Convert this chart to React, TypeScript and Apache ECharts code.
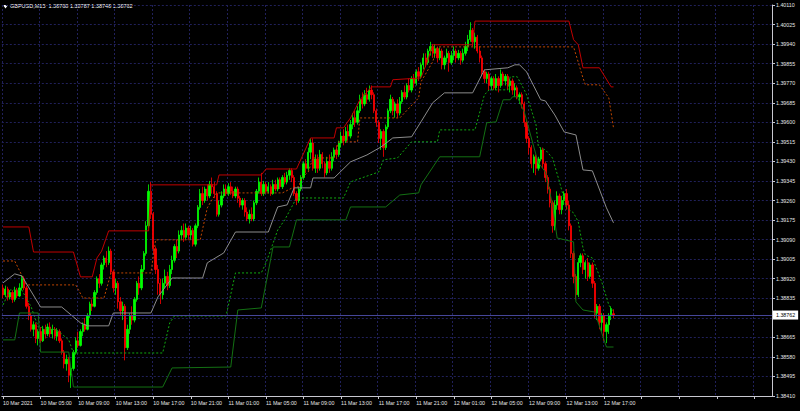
import React, { useEffect, useRef } from 'react';
import * as echarts from 'echarts';

// ---- data ----
const symbolTitle = 'GBPUSD,M15  1.38768 1.38787 1.38748 1.38762';
const currentPrice = 1.38762;
const priceBase = 1.3841;
const priceStep = 0.00085;
const tickLabels = [
  '10 Mar 2021', '10 Mar 05:00', '10 Mar 09:00', '10 Mar 13:00', '10 Mar 17:00', '10 Mar 21:00',
  '11 Mar 01:00', '11 Mar 05:00', '11 Mar 09:00', '11 Mar 13:00', '11 Mar 17:00', '11 Mar 21:00',
  '12 Mar 01:00', '12 Mar 05:00', '12 Mar 09:00', '12 Mar 13:00', '12 Mar 17:00',
];
const slotCount = 328; // bar slots on the axis (bars + empty right margin)

// candles: [open, close, low, high]
const candles: number[][] = [
  [1.38880, 1.38850, 1.38835, 1.38895], [1.38850, 1.38875, 1.38840, 1.38890], [1.38875, 1.38840, 1.38825, 1.38885],
  [1.38840, 1.38860, 1.38830, 1.38870], [1.38860, 1.38830, 1.38815, 1.38870], [1.38830, 1.38870, 1.38820, 1.38885],
  [1.38870, 1.38845, 1.38835, 1.38880], [1.38845, 1.38880, 1.38840, 1.38900], [1.38880, 1.38920, 1.38870, 1.38935],
  [1.38920, 1.38880, 1.38870, 1.38930], [1.38880, 1.38800, 1.38790, 1.38890], [1.38800, 1.38760, 1.38740, 1.38815],
  [1.38760, 1.38700, 1.38690, 1.38770], [1.38700, 1.38720, 1.38670, 1.38735], [1.38720, 1.38660, 1.38640, 1.38730],
  [1.38660, 1.38690, 1.38630, 1.38700], [1.38690, 1.38650, 1.38640, 1.38710], [1.38650, 1.38700, 1.38645, 1.38715],
  [1.38700, 1.38680, 1.38660, 1.38720], [1.38680, 1.38710, 1.38670, 1.38725], [1.38710, 1.38680, 1.38665, 1.38730],
  [1.38680, 1.38700, 1.38660, 1.38720], [1.38700, 1.38670, 1.38655, 1.38710], [1.38670, 1.38690, 1.38650, 1.38705],
  [1.38690, 1.38650, 1.38640, 1.38700], [1.38650, 1.38600, 1.38590, 1.38660], [1.38600, 1.38550, 1.38530, 1.38610],
  [1.38550, 1.38570, 1.38520, 1.38590], [1.38570, 1.38500, 1.38470, 1.38580], [1.38500, 1.38530, 1.38445, 1.38545],
  [1.38530, 1.38600, 1.38520, 1.38610], [1.38600, 1.38650, 1.38590, 1.38665], [1.38650, 1.38630, 1.38620, 1.38690],
  [1.38630, 1.38690, 1.38625, 1.38700], [1.38690, 1.38720, 1.38670, 1.38730], [1.38720, 1.38700, 1.38690, 1.38750],
  [1.38700, 1.38760, 1.38695, 1.38770], [1.38760, 1.38810, 1.38750, 1.38820], [1.38810, 1.38800, 1.38780, 1.38830],
  [1.38800, 1.38860, 1.38795, 1.38870], [1.38860, 1.38920, 1.38850, 1.38930], [1.38920, 1.38900, 1.38880, 1.38940],
  [1.38900, 1.38980, 1.38890, 1.38990], [1.38980, 1.39010, 1.38960, 1.39020], [1.39010, 1.38990, 1.38970, 1.39040],
  [1.38990, 1.39040, 1.38980, 1.39060], [1.39040, 1.38950, 1.38940, 1.39050], [1.38950, 1.38880, 1.38860, 1.38960],
  [1.38880, 1.38900, 1.38850, 1.38920], [1.38900, 1.38820, 1.38790, 1.38910], [1.38820, 1.38780, 1.38760, 1.38840],
  [1.38780, 1.38800, 1.38740, 1.38820], [1.38800, 1.38620, 1.38565, 1.38810], [1.38620, 1.38700, 1.38610, 1.38720],
  [1.38700, 1.38760, 1.38680, 1.38770], [1.38760, 1.38740, 1.38720, 1.38800], [1.38740, 1.38830, 1.38730, 1.38840],
  [1.38830, 1.38900, 1.38820, 1.38910], [1.38900, 1.38880, 1.38850, 1.38930], [1.38880, 1.38960, 1.38870, 1.38980],
  [1.38960, 1.39030, 1.38950, 1.39040], [1.39030, 1.39150, 1.39020, 1.39170], [1.39150, 1.39300, 1.39140, 1.39330],
  [1.39300, 1.39200, 1.39180, 1.39340], [1.39200, 1.39050, 1.39030, 1.39210], [1.39050, 1.38960, 1.38940, 1.39060],
  [1.38960, 1.38900, 1.38850, 1.38980], [1.38900, 1.38850, 1.38810, 1.38920], [1.38850, 1.38900, 1.38830, 1.38920],
  [1.38900, 1.38930, 1.38880, 1.38960], [1.38930, 1.38890, 1.38870, 1.38950], [1.38890, 1.38960, 1.38880, 1.38980],
  [1.38960, 1.39000, 1.38940, 1.39020], [1.39000, 1.39060, 1.38990, 1.39070], [1.39060, 1.39040, 1.39010, 1.39090],
  [1.39040, 1.39110, 1.39030, 1.39130], [1.39110, 1.39130, 1.39090, 1.39150], [1.39130, 1.39100, 1.39080, 1.39160],
  [1.39100, 1.39140, 1.39090, 1.39160], [1.39140, 1.39110, 1.39090, 1.39150], [1.39110, 1.39130, 1.39090, 1.39150],
  [1.39130, 1.39070, 1.39060, 1.39140], [1.39070, 1.39150, 1.39060, 1.39160], [1.39150, 1.39230, 1.39140, 1.39240],
  [1.39230, 1.39290, 1.39220, 1.39310], [1.39290, 1.39260, 1.39240, 1.39320], [1.39260, 1.39310, 1.39250, 1.39320],
  [1.39310, 1.39280, 1.39260, 1.39330], [1.39280, 1.39330, 1.39270, 1.39345], [1.39330, 1.39320, 1.39290, 1.39360],
  [1.39320, 1.39290, 1.39270, 1.39340], [1.39290, 1.39200, 1.39190, 1.39300], [1.39200, 1.39240, 1.39190, 1.39260],
  [1.39240, 1.39280, 1.39230, 1.39300], [1.39280, 1.39310, 1.39270, 1.39330], [1.39310, 1.39290, 1.39280, 1.39330],
  [1.39290, 1.39320, 1.39280, 1.39335], [1.39320, 1.39300, 1.39285, 1.39340], [1.39300, 1.39280, 1.39270, 1.39320],
  [1.39280, 1.39310, 1.39270, 1.39320], [1.39310, 1.39270, 1.39250, 1.39320], [1.39270, 1.39240, 1.39230, 1.39280],
  [1.39240, 1.39260, 1.39220, 1.39270], [1.39260, 1.39210, 1.39190, 1.39270], [1.39210, 1.39180, 1.39170, 1.39230],
  [1.39180, 1.39200, 1.39160, 1.39220], [1.39200, 1.39180, 1.39170, 1.39230], [1.39180, 1.39250, 1.39170, 1.39260],
  [1.39250, 1.39300, 1.39240, 1.39310], [1.39300, 1.39340, 1.39290, 1.39360], [1.39340, 1.39290, 1.39280, 1.39380],
  [1.39290, 1.39330, 1.39280, 1.39345], [1.39330, 1.39300, 1.39290, 1.39340], [1.39300, 1.39320, 1.39290, 1.39340],
  [1.39320, 1.39290, 1.39280, 1.39330], [1.39290, 1.39330, 1.39285, 1.39350], [1.39330, 1.39310, 1.39300, 1.39350],
  [1.39310, 1.39350, 1.39300, 1.39360], [1.39350, 1.39320, 1.39310, 1.39360], [1.39320, 1.39360, 1.39310, 1.39370],
  [1.39360, 1.39340, 1.39330, 1.39380], [1.39340, 1.39370, 1.39330, 1.39385], [1.39370, 1.39390, 1.39350, 1.39400],
  [1.39390, 1.39360, 1.39340, 1.39400], [1.39360, 1.39290, 1.39280, 1.39370], [1.39290, 1.39260, 1.39240, 1.39300],
  [1.39260, 1.39310, 1.39250, 1.39320], [1.39310, 1.39360, 1.39300, 1.39370], [1.39360, 1.39420, 1.39350, 1.39430],
  [1.39420, 1.39400, 1.39380, 1.39440], [1.39400, 1.39470, 1.39390, 1.39490], [1.39470, 1.39510, 1.39440, 1.39530],
  [1.39510, 1.39400, 1.39390, 1.39530], [1.39400, 1.39440, 1.39380, 1.39460], [1.39440, 1.39400, 1.39380, 1.39460],
  [1.39400, 1.39460, 1.39390, 1.39480], [1.39460, 1.39420, 1.39400, 1.39470], [1.39420, 1.39380, 1.39360, 1.39430],
  [1.39380, 1.39430, 1.39370, 1.39450], [1.39430, 1.39400, 1.39380, 1.39460], [1.39400, 1.39450, 1.39390, 1.39470],
  [1.39450, 1.39480, 1.39430, 1.39490], [1.39480, 1.39460, 1.39440, 1.39500], [1.39460, 1.39510, 1.39450, 1.39520],
  [1.39510, 1.39540, 1.39490, 1.39560], [1.39540, 1.39520, 1.39500, 1.39570], [1.39520, 1.39560, 1.39510, 1.39580],
  [1.39560, 1.39540, 1.39520, 1.39590], [1.39540, 1.39590, 1.39530, 1.39610], [1.39590, 1.39620, 1.39570, 1.39640],
  [1.39620, 1.39600, 1.39580, 1.39650], [1.39600, 1.39650, 1.39590, 1.39670], [1.39650, 1.39700, 1.39640, 1.39720],
  [1.39700, 1.39680, 1.39660, 1.39730], [1.39680, 1.39720, 1.39670, 1.39740], [1.39720, 1.39700, 1.39680, 1.39750],
  [1.39700, 1.39740, 1.39690, 1.39760], [1.39740, 1.39720, 1.39700, 1.39760], [1.39720, 1.39650, 1.39640, 1.39730],
  [1.39650, 1.39600, 1.39580, 1.39660], [1.39600, 1.39530, 1.39510, 1.39610], [1.39530, 1.39560, 1.39480, 1.39570],
  [1.39560, 1.39490, 1.39450, 1.39570], [1.39490, 1.39580, 1.39480, 1.39590], [1.39580, 1.39650, 1.39570, 1.39660],
  [1.39650, 1.39700, 1.39640, 1.39720], [1.39700, 1.39650, 1.39630, 1.39710], [1.39650, 1.39680, 1.39620, 1.39690],
  [1.39680, 1.39640, 1.39620, 1.39700], [1.39640, 1.39690, 1.39630, 1.39710], [1.39690, 1.39730, 1.39680, 1.39740],
  [1.39730, 1.39710, 1.39700, 1.39760], [1.39710, 1.39760, 1.39700, 1.39770], [1.39760, 1.39740, 1.39730, 1.39790],
  [1.39740, 1.39790, 1.39730, 1.39800], [1.39790, 1.39770, 1.39750, 1.39810], [1.39770, 1.39820, 1.39760, 1.39830],
  [1.39820, 1.39800, 1.39780, 1.39840], [1.39800, 1.39850, 1.39790, 1.39860], [1.39850, 1.39880, 1.39830, 1.39900],
  [1.39880, 1.39860, 1.39840, 1.39900], [1.39860, 1.39910, 1.39850, 1.39920], [1.39910, 1.39930, 1.39890, 1.39950],
  [1.39930, 1.39900, 1.39880, 1.39940], [1.39900, 1.39920, 1.39880, 1.39940], [1.39920, 1.39880, 1.39860, 1.39930],
  [1.39880, 1.39910, 1.39870, 1.39925], [1.39910, 1.39850, 1.39830, 1.39920], [1.39850, 1.39880, 1.39830, 1.39890],
  [1.39880, 1.39900, 1.39860, 1.39920], [1.39900, 1.39860, 1.39820, 1.39910], [1.39860, 1.39890, 1.39850, 1.39910],
  [1.39890, 1.39910, 1.39870, 1.39930], [1.39910, 1.39880, 1.39860, 1.39920], [1.39880, 1.39900, 1.39870, 1.39915],
  [1.39900, 1.39870, 1.39850, 1.39910], [1.39870, 1.39900, 1.39860, 1.39920], [1.39900, 1.39930, 1.39890, 1.39950],
  [1.39930, 1.39960, 1.39910, 1.39980], [1.39960, 1.40000, 1.39950, 1.40035], [1.40000, 1.39950, 1.39930, 1.40010],
  [1.39950, 1.39970, 1.39920, 1.39990], [1.39970, 1.39910, 1.39900, 1.39980], [1.39910, 1.39880, 1.39860, 1.39930],
  [1.39880, 1.39820, 1.39800, 1.39890], [1.39820, 1.39790, 1.39770, 1.39830], [1.39790, 1.39810, 1.39770, 1.39820],
  [1.39810, 1.39760, 1.39740, 1.39820], [1.39760, 1.39790, 1.39740, 1.39800], [1.39790, 1.39750, 1.39740, 1.39800],
  [1.39750, 1.39790, 1.39740, 1.39810], [1.39790, 1.39760, 1.39730, 1.39800], [1.39760, 1.39810, 1.39750, 1.39830],
  [1.39810, 1.39780, 1.39760, 1.39820], [1.39780, 1.39800, 1.39760, 1.39810], [1.39800, 1.39760, 1.39740, 1.39810],
  [1.39760, 1.39780, 1.39730, 1.39790], [1.39780, 1.39740, 1.39720, 1.39790], [1.39740, 1.39750, 1.39710, 1.39770],
  [1.39750, 1.39710, 1.39700, 1.39760], [1.39710, 1.39720, 1.39680, 1.39730], [1.39720, 1.39680, 1.39660, 1.39730],
  [1.39680, 1.39600, 1.39580, 1.39690], [1.39600, 1.39530, 1.39510, 1.39610], [1.39530, 1.39490, 1.39460, 1.39540],
  [1.39490, 1.39420, 1.39400, 1.39500], [1.39420, 1.39450, 1.39380, 1.39460], [1.39450, 1.39400, 1.39370, 1.39460],
  [1.39400, 1.39440, 1.39390, 1.39450], [1.39440, 1.39480, 1.39430, 1.39490], [1.39480, 1.39420, 1.39400, 1.39490],
  [1.39420, 1.39360, 1.39340, 1.39430], [1.39360, 1.39310, 1.39290, 1.39370], [1.39310, 1.39250, 1.39230, 1.39320],
  [1.39250, 1.39150, 1.39120, 1.39260], [1.39150, 1.39240, 1.39130, 1.39260], [1.39240, 1.39280, 1.39220, 1.39300],
  [1.39280, 1.39220, 1.39200, 1.39290], [1.39220, 1.39260, 1.39200, 1.39280], [1.39260, 1.39290, 1.39240, 1.39300],
  [1.39290, 1.39240, 1.39220, 1.39310], [1.39240, 1.39150, 1.39130, 1.39260], [1.39150, 1.39030, 1.39010, 1.39160],
  [1.39030, 1.38930, 1.38900, 1.39040], [1.38930, 1.38850, 1.38830, 1.38940], [1.38850, 1.38990, 1.38840, 1.39010],
  [1.38990, 1.39020, 1.38970, 1.39030], [1.39020, 1.38960, 1.38940, 1.39030], [1.38960, 1.38990, 1.38920, 1.39000],
  [1.38990, 1.38930, 1.38910, 1.39010], [1.38930, 1.38980, 1.38920, 1.38990], [1.38980, 1.38900, 1.38880, 1.38990],
  [1.38900, 1.38770, 1.38750, 1.38910], [1.38770, 1.38800, 1.38740, 1.38810], [1.38800, 1.38730, 1.38700, 1.38810],
  [1.38730, 1.38760, 1.38690, 1.38770], [1.38760, 1.38690, 1.38650, 1.38770], [1.38690, 1.38720, 1.38640, 1.38730],
  [1.38720, 1.38760, 1.38680, 1.38770], [1.38760, 1.38790, 1.38740, 1.38800], [1.38768, 1.38762, 1.38748, 1.38787],
];

// indicator lines as [barIndex, price] corner points
const upperLong: number[][] = [
  [0, 1.39145], [11, 1.39145], [13, 1.39036], [30, 1.39036], [33, 1.38928], [38, 1.38928], [40, 1.39010],
  [42, 1.39040], [45, 1.39128], [62, 1.39128], [63, 1.39328], [91, 1.39328], [92, 1.39371], [110, 1.39371],
  [112, 1.39397], [125, 1.39397], [131, 1.39532], [141, 1.39532], [142, 1.39576], [145, 1.39576],
  [148, 1.39619], [152, 1.39698], [157, 1.39754], [165, 1.39754], [166, 1.39785], [178, 1.39793],
  [181, 1.39872], [183, 1.39937], [200, 1.39937], [201, 1.40040], [241, 1.40040], [243, 1.39959],
  [245, 1.39937], [247, 1.39837], [254, 1.39837], [259, 1.39754], [260, 1.39754],
];
const upperShort: number[][] = [
  [0, 1.38997], [5, 1.38997], [10, 1.38893], [31, 1.38893], [34, 1.38836], [43, 1.38836], [46, 1.38945],
  [63, 1.38945], [65, 1.39089], [84, 1.39089], [87, 1.39228], [89, 1.39263], [91, 1.39293], [119, 1.39293],
  [124, 1.39319], [126, 1.39319], [127, 1.39358], [130, 1.39384], [132, 1.39445], [141, 1.39445],
  [143, 1.39515], [151, 1.39515], [152, 1.39619], [169, 1.39619], [177, 1.39706], [178, 1.39776],
  [183, 1.39863], [185, 1.39928], [243, 1.39928], [247, 1.39793], [248, 1.39763], [254, 1.39763],
  [258, 1.39706], [260, 1.39576],
];
const middle: number[][] = [
  [0, 1.38902], [5, 1.38941], [8, 1.38932], [16, 1.38797], [25, 1.38797], [33, 1.38728], [36, 1.38715],
  [45, 1.38715], [47, 1.38771], [63, 1.38771], [66, 1.38841], [72, 1.38923], [85, 1.38923], [87, 1.38989],
  [94, 1.39032], [99, 1.39123], [113, 1.39123], [117, 1.39232], [121, 1.39241], [124, 1.39315],
  [131, 1.39315], [132, 1.39358], [141, 1.39358], [148, 1.39428], [155, 1.39458], [161, 1.39493],
  [166, 1.39532], [174, 1.39537], [178, 1.39602], [183, 1.39685], [188, 1.39728], [200, 1.39728],
  [205, 1.39828], [215, 1.39837], [218, 1.39850], [220, 1.39850], [223, 1.39819], [229, 1.39698],
  [231, 1.39693], [235, 1.39632], [239, 1.39558], [244, 1.39545], [247, 1.39393], [251, 1.39389],
  [257, 1.39228], [260, 1.39163],
];
const lowerShort: number[][] = [
  [0, 1.38806], [3, 1.38871], [8, 1.38871], [12, 1.38797], [15, 1.38710], [23, 1.38697], [28, 1.38654],
  [30, 1.38597], [68, 1.38597], [71, 1.38728], [73, 1.38758], [95, 1.38758], [99, 1.38945], [110, 1.38945],
  [112, 1.38989], [114, 1.39045], [117, 1.39132], [120, 1.39176], [125, 1.39271], [145, 1.39271],
  [148, 1.39341], [160, 1.39384], [162, 1.39437], [168, 1.39445], [174, 1.39515], [185, 1.39515],
  [186, 1.39567], [201, 1.39567], [205, 1.39719], [207, 1.39741], [215, 1.39741], [216, 1.39798],
  [219, 1.39798], [222, 1.39741], [223, 1.39719], [227, 1.39589], [228, 1.39493], [231, 1.39480],
  [234, 1.39445], [237, 1.39341], [240, 1.39228], [243, 1.39206], [245, 1.39167], [247, 1.39054],
  [248, 1.39023], [251, 1.39010], [255, 1.38906], [258, 1.38806], [260, 1.38775],
];
const lowerLong: number[][] = [
  [0, 1.38654], [5, 1.38654], [7, 1.38771], [15, 1.38771], [16, 1.38601], [28, 1.38601], [30, 1.38449],
  [68, 1.38449], [72, 1.38532], [97, 1.38536], [100, 1.38784], [110, 1.38793], [115, 1.39058],
  [122, 1.39058], [125, 1.39176], [146, 1.39176], [148, 1.39232], [163, 1.39232], [169, 1.39284],
  [177, 1.39293], [178, 1.39328], [186, 1.39450], [203, 1.39450], [206, 1.39598], [210, 1.39602],
  [213, 1.39698], [216, 1.39698], [217, 1.39711], [219, 1.39711], [222, 1.39645], [227, 1.39458],
  [228, 1.39424], [231, 1.39384], [234, 1.39241], [236, 1.39097], [243, 1.39080], [244, 1.38819],
  [247, 1.38784], [252, 1.38775], [257, 1.38623], [260, 1.38623],
];

// ---- helpers ----
const toPts = (p: number) => Math.round((p - priceBase) * 100000);
const stepPts = Math.round(priceStep * 100000);
const fontFamily = 'Liberation Sans, Arial, sans-serif';
const axisFont = 5.3;

function makeCategories(): string[] {
  const out: string[] = [];
  const start = Date.UTC(2021, 2, 10, 1, 0);
  for (let i = 0; i < slotCount; i++) {
    const d = new Date(start + i * 15 * 60000);
    const hh = String(d.getUTCHours()).padStart(2, '0');
    const mm = String(d.getUTCMinutes()).padStart(2, '0');
    out.push(`${d.getUTCDate()} Mar ${hh}:${mm}`);
  }
  return out;
}

export default function App() {
  const ref = useRef<HTMLDivElement>(null);

  useEffect(() => {
    document.body.style.margin = '0';
    document.body.style.background = '#000';
    if (!ref.current) return;
    const chart = echarts.init(ref.current, undefined, { renderer: 'svg' });

    const gridColor = '#20205a';
    const axisColor = '#c8c8d0';
    const textColor = '#e6e6e6';
    const curPts = toPts(currentPrice);

    const lineSeries = (data: number[][], color: string, dotted: boolean) => ({
      type: 'line',
      data: data.map(([i, p]) => [i, toPts(p)]),
      showSymbol: false,
      symbol: 'none',
      silent: true,
      z: 4,
      lineStyle: { color, width: 1, type: dotted ? [2, 2] : 'solid' },
    });

    const option: any = {
      animation: false,
      backgroundColor: '#000000',
      grid: { left: 1, right: 28, top: 5, bottom: 15 },
      xAxis: {
        type: 'category',
        data: makeCategories(),
        boundaryGap: true,
        axisLine: { show: true, lineStyle: { color: axisColor, width: 1 } },
        axisTick: { show: true, interval: 15, alignWithLabel: true, length: 3, lineStyle: { color: axisColor } },
        axisLabel: {
          interval: 15,
          color: textColor,
          fontSize: axisFont,
          fontFamily,
          align: 'left',
          margin: 4,
          formatter: (_v: string, idx: number) => tickLabels[idx / 16] ?? '',
        },
        splitLine: { show: true, interval: 15, lineStyle: { color: gridColor, type: [2, 2], width: 1 } },
      },
      yAxis: {
        type: 'value',
        position: 'right',
        min: 0,
        max: stepPts * 20,
        interval: stepPts,
        axisLine: { show: true, lineStyle: { color: axisColor, width: 1 } },
        axisTick: { show: true, length: 3, lineStyle: { color: axisColor } },
        axisLabel: {
          color: textColor,
          fontSize: axisFont,
          fontFamily,
          margin: 4,
          // the tick label hidden behind the current-price box is left blank
          formatter: (v: number) =>
            Math.abs(v - curPts) < 30 ? '' : ((Math.round(priceBase * 100000) + v) / 100000).toFixed(5),
        },
        splitLine: { show: true, lineStyle: { color: gridColor, type: [2, 2], width: 1 } },
      },
      series: [
        {
          type: 'candlestick',
          data: candles.map((c) => c.map(toPts)),
          barWidth: 1.8,
          silent: true,
          z: 2,
          itemStyle: {
            color: '#00ff00',
            color0: '#ff0000',
            borderColor: '#00ff00',
            borderColor0: '#ff0000',
            borderWidth: 0.8,
          },
          markLine: {
            silent: true,
            symbol: ['none', 'none'],
            animation: false,
            data: [{ yAxis: curPts }],
            lineStyle: { color: '#46469a', width: 1, type: 'solid' },
            label: {
              show: true,
              position: 'end',
              distance: 1,
              formatter: currentPrice.toFixed(5),
              backgroundColor: '#ffffff',
              color: '#000000',
              fontSize: axisFont,
              fontFamily,
              padding: [2, 3, 2, 3],
            },
          },
        },
        lineSeries(upperLong, '#c00000', false),
        lineSeries(upperShort, '#bf4600', true),
        lineSeries(middle, '#8c8c8c', false),
        lineSeries(lowerShort, '#10a810', true),
        lineSeries(lowerLong, '#137013', false),
      ],
      graphic: [
        {
          type: 'polygon',
          shape: { points: [[3, 5], [8, 5], [5.5, 8.5]] },
          style: { fill: '#ffffff' },
          silent: true,
        },
        {
          type: 'text',
          left: 10,
          top: 3,
          style: { text: symbolTitle, fill: '#ffffff', font: `5.5px ${fontFamily}` },
          silent: true,
        },
      ],
    };

    chart.setOption(option);
    return () => chart.dispose();
  }, []);

  return <div ref={ref} style={{ width: 800, height: 411, background: '#000' }} />;
}
